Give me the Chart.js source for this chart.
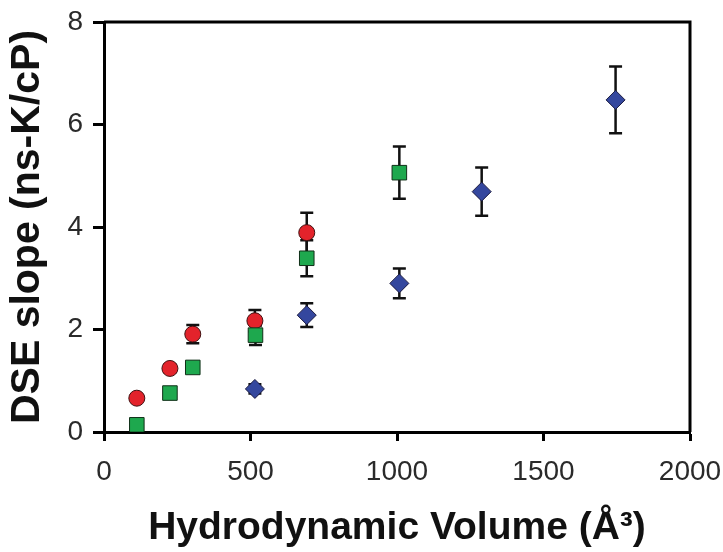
<!DOCTYPE html>
<html>
<head>
<meta charset="utf-8">
<script src="https://cdn.jsdelivr.net/npm/chart.js@4/dist/chart.umd.min.js"></script>
<style>
  html, body { margin: 0; padding: 0; background: #ffffff; }
  #wrap { width: 723px; height: 552px; }
</style>
</head>
<body>
<div id="wrap"><canvas id="c" width="723" height="552"></canvas></div>
<script>
// ---- data ----
const circleX = [112, 225, 303, 515, 692];
const circleY = [0.66, 1.24, 1.91, 2.17, 3.89];
const circleErr = [0.05, 0.07, 0.18, 0.21, 0.39];

const squareX = [112, 225, 303, 517, 692, 1008];
const squareY = [0.14, 0.76, 1.26, 1.89, 3.39, 5.06];
const squareErr = [0.04, 0.06, 0.09, 0.19, 0.35, 0.51];

const diamondX = [515, 692, 1008, 1289, 1746];
const diamondY = [0.84, 2.28, 2.90, 4.69, 6.48];
const diamondErr = [0.09, 0.23, 0.29, 0.47, 0.65];

const xTicks = [0, 500, 1000, 1500, 2000];
const yTicks = [0, 2, 4, 6, 8];

function pts(xs, ys, es) {
  return xs.map((x, i) => ({ x: x, y: ys[i], err: es[i] }));
}

const errorBars = {
  id: 'errorBars',
  beforeDatasetsDraw(chart) {
    const ctx = chart.ctx;
    const xs = chart.scales.x, ys = chart.scales.y;
    ctx.save();
    ctx.strokeStyle = '#111';
    ctx.lineWidth = 2.5;
    chart.data.datasets.forEach(ds => {
      ds.data.forEach(p => {
        const px = xs.getPixelForValue(p.x);
        const top = ys.getPixelForValue(p.y + p.err);
        const bot = ys.getPixelForValue(p.y - p.err);
        const cap = 6.5;
        ctx.beginPath();
        ctx.moveTo(px, top); ctx.lineTo(px, bot);
        ctx.moveTo(px - cap, top); ctx.lineTo(px + cap, top);
        ctx.moveTo(px - cap, bot); ctx.lineTo(px + cap, bot);
        ctx.stroke();
      });
    });
    ctx.restore();
  }
};

const frame = {
  id: 'frame',
  afterDatasetsDraw(chart) {
    const a = chart.chartArea, ctx = chart.ctx;
    ctx.save();
    ctx.strokeStyle = '#000';
    ctx.lineWidth = 3;
    ctx.beginPath();
    ctx.moveTo(a.left, a.top); ctx.lineTo(a.right, a.top); ctx.lineTo(a.right, a.bottom);
    ctx.stroke();
    ctx.restore();
  }
};

const tickFont = { family: 'Liberation Sans, Arial, sans-serif', size: 28 };
const xTitleFont = { family: 'Liberation Sans, Arial, sans-serif', size: 39, weight: 'bold' };
const yTitleFont = { family: 'Liberation Sans, Arial, sans-serif', size: 41, weight: 'bold' };

new Chart(document.getElementById('c'), {
  type: 'scatter',
  data: {
    datasets: [
      { label: 'diamond', data: pts(diamondX, diamondY, diamondErr), pointStyle: 'rectRot', radius: 9.5,
        backgroundColor: '#34479e', borderColor: '#1a1a40', borderWidth: 1 },
      { label: 'square', data: pts(squareX, squareY, squareErr), pointStyle: 'rect', radius: 10.3,
        backgroundColor: '#1ea84e', borderColor: '#103018', borderWidth: 1 },
      { label: 'circle', data: pts(circleX, circleY, circleErr), pointStyle: 'circle', radius: 8,
        backgroundColor: '#e3232b', borderColor: '#401010', borderWidth: 1 }
    ]
  },
  options: {
    responsive: false,
    animation: false,
    events: [],
    layout: { padding: { left: 0, right: 33, top: 22, bottom: 0 } },
    plugins: { legend: { display: false }, tooltip: { enabled: false } },
    scales: {
      x: {
        type: 'linear', min: 0, max: 2000,
        afterBuildTicks(s) { s.ticks = xTicks.map(v => ({ value: v })); },
        afterFit(s) { s.height = 120; s.paddingLeft = 0; s.paddingRight = 0; },
        grid: { drawOnChartArea: false, drawTicks: true, tickLength: 9, tickWidth: 3, tickColor: '#000' },
        border: { display: true, width: 3, color: '#000' },
        ticks: { font: tickFont, color: '#2a2a2a', padding: 14, maxRotation: 0,
                 callback: v => String(v) },
        title: { display: true, text: 'Hydrodynamic Volume (Å³)', font: xTitleFont, color: '#111',
                 padding: { top: 0, bottom: 0 } }
      },
      y: {
        type: 'linear', min: 0, max: 8,
        afterBuildTicks(s) { s.ticks = yTicks.map(v => ({ value: v })); },
        afterFit(s) { s.width = 104; s.paddingTop = 0; s.paddingBottom = 0; },
        grid: { drawOnChartArea: false, drawTicks: true, tickLength: 11, tickWidth: 3, tickColor: '#000' },
        border: { display: true, width: 3, color: '#000' },
        ticks: { font: tickFont, color: '#2a2a2a', padding: 10, callback: v => String(v) },
        title: { display: true, text: 'DSE slope (ns-K/cP)', font: yTitleFont, color: '#111',
                 padding: { top: 3, bottom: 0 } }
      }
    }
  },
  plugins: [errorBars, frame]
});
</script>
</body>
</html>
